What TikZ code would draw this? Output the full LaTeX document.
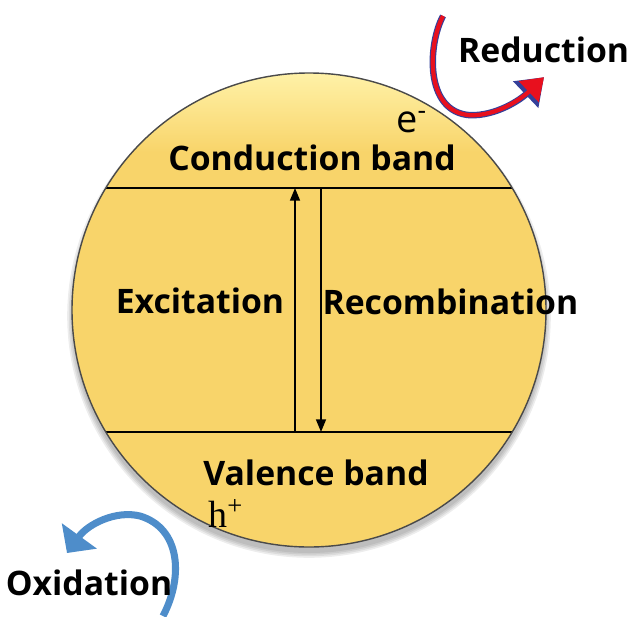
\documentclass[tikz,border=0pt]{standalone}
\usepackage{fontspec}
\setmainfont{Open Sans}
\newfontfamily\serifh{Liberation Serif}
\usepackage{tikz}
\usetikzlibrary{arrows.meta, calc}
\definecolor{kgold}{HTML}{F8D46A}
\definecolor{kgoldlight}{HTML}{FFF2A8}
\definecolor{krim}{HTML}{4A4A4A}
\definecolor{kred}{HTML}{E8101E}
\definecolor{kredrim}{HTML}{34409A}
\definecolor{kblue}{HTML}{4E8DCA}
\tikzset{
  bandlabel/.style={font=\bfseries\fontsize{24}{28}\selectfont, inner sep=0pt, anchor=base},
  chargelabel/.style={font=\fontsize{27}{30}\selectfont, inner sep=0pt, anchor=base west},
  bandline/.style={black, line width=1.3pt},
  transarrow/.style={black, line width=1.4pt, -{Triangle[length=9pt,width=7pt]}},
}

\begin{document}
\begin{tikzpicture}[x=1cm, y=1cm]
  \useasboundingbox (0,0) rectangle (15.8,15.4);

  %% soft shadow under the particle
  \foreach \s in {0.12,0.08,0.04,0.0}
    \fill[black, opacity=0.07] (7.725,7.5) circle (5.925+\s);

  %% particle
  \fill[kgold] (7.725,7.65) circle (5.925);
  \begin{scope}
    \clip (7.725,7.65) circle (5.925);
    \shade[top color=kgoldlight, bottom color=kgold] (1.5,11.6) rectangle (14.0,13.6);
  \end{scope}

  %% bands
  \coordinate (cbL) at (2.645,10.7);
  \coordinate (cbR) at (12.805,10.7);
  \coordinate (vbL) at (2.645,4.6);
  \coordinate (vbR) at (12.805,4.6);
  \draw[bandline] (cbL) -- (cbR);
  \draw[bandline] (vbL) -- (vbR);

  %% excitation / recombination
  \coordinate (exS) at (7.375,4.6);
  \coordinate (exE) at (7.375,10.7);
  \coordinate (reS) at (8.025,10.7);
  \coordinate (reE) at (8.025,4.6);
  \draw[transarrow] (exS) -- (exE);
  \draw[transarrow] (reS) -- (reE);

  \draw[krim, line width=1pt] (7.725,7.65) circle (5.925);

  %% reduction arrow
  \coordinate (redS) at (11.075,15.0);
  \coordinate (redE) at (13.6,13.47);
  \draw[kredrim, line width=4.6pt, -{Triangle[length=18pt,width=25pt]}]
    (redS) .. controls (10.7,14.3) and (10.6,12.6) .. (11.75,12.52)
    .. controls (12.4,12.5) and (13.0,12.9) .. (redE);
  \draw[kred, line width=3pt, -{Triangle[length=15pt,width=20pt]}]
    (redS) .. controls (10.7,14.3) and (10.6,12.6) .. (11.75,12.52)
    .. controls (12.4,12.5) and (13.0,12.9) .. (redE);

  %% oxidation arrow
  \coordinate (oxS) at (4.075,0.0);
  \coordinate (oxE) at (1.675,1.575);
  \draw[kblue, line width=5pt, -{Triangle[length=15pt,width=30pt]}]
    (oxS) .. controls (4.6,1.0) and (4.5,2.2) .. (3.5,2.5)
    .. controls (2.9,2.65) and (2.2,2.3) .. (oxE);

  %% labels
  \node[bandlabel] (cb) at (7.8,11.15) {Conduction band};
  \node[bandlabel] (vb) at (7.9,3.275) {Valence band};
  \node[bandlabel] (ex) at (5.0,7.575) {Excitation};
  \node[bandlabel] (rec) at (11.26,7.55) {Recombination};
  \node[bandlabel] (red) at (13.59,13.825) {Reduction};
  \node[bandlabel] (ox) at (2.225,0.525) {Oxidation};
  \node[chargelabel] (elec) at (9.9,12.1) {e\textsuperscript{-}};
  \node[chargelabel, font=\serifh\fontsize{27}{30}\selectfont] (hole) at (5.2,2.225)
    {h\textsuperscript{+}};

\end{tikzpicture}
\end{document}
